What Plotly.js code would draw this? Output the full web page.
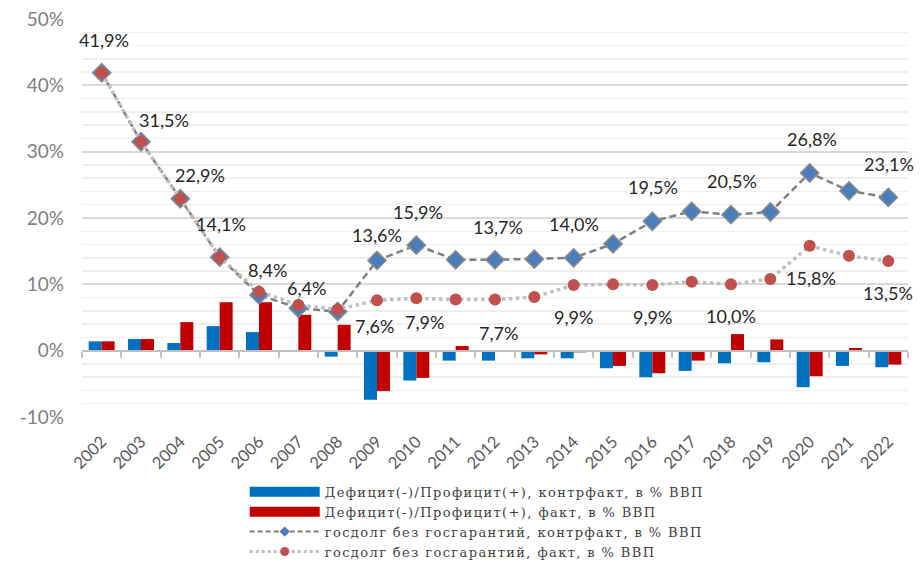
<!DOCTYPE html>
<html>
<head>
<meta charset="utf-8">
<script src="https://cdn.plot.ly/plotly-3.0.1.min.js"></script>
<style>html,body{margin:0;padding:0;background:#fff;}#chart{width:920px;height:563px;}
.legendtext{letter-spacing:1.4px;}</style>
</head>
<body>
<div id="chart"></div>
<script>
// ---- data ----
const years = ['2002','2003','2004','2005','2006','2007','2008','2009','2010','2011','2012','2013','2014','2015','2016','2017','2018','2019','2020','2021','2022'];
const deficitCounter = [1.4,1.75,1.15,3.7,2.8,0,-0.9,-7.4,-4.5,-1.5,-1.5,-1.15,-1.15,-2.65,-4.0,-3.05,-1.9,-1.75,-5.5,-2.3,-2.5];
const deficitFact = [1.4,1.75,4.3,7.3,7.3,5.4,3.9,-6.1,-4.1,0.7,0,-0.55,-0.25,-2.3,-3.4,-1.5,2.5,1.7,-3.85,0.4,-2.1];
const debtCounter = [41.9,31.5,22.9,14.1,8.4,6.4,5.9,13.6,15.9,13.7,13.7,13.8,14.0,16.1,19.5,21.0,20.5,20.9,26.8,24.1,23.1];
const debtFact = [41.9,31.5,22.9,14.1,8.9,6.9,6.2,7.6,7.9,7.7,7.7,8.1,9.9,10.0,9.9,10.4,10.0,10.8,15.8,14.3,13.5];
const counterLabelYears = ['2002','2003','2004','2005','2006','2007','2009','2010','2012','2014','2016','2018','2020','2022'];
const factLabelYears = ['2009','2010','2012','2014','2016','2018','2020','2022'];
const yTickValues = [-10, 0, 10, 20, 30, 40, 50];
const seriesNames = [
  'Дефицит(-)/Профицит(+), контрфакт, в % ВВП',
  'Дефицит(-)/Профицит(+), факт, в % ВВП',
  'госдолг без госгарантий, контрфакт, в % ВВП',
  'госдолг без госгарантий, факт, в % ВВП'
];

// ---- label offsets (styling, px) ----
const counterShift = {'2002':[2,33],'2003':[23,22],'2004':[20,24],'2005':[1,33],'2006':[8,25],'2007':[8,20],'2009':[0,25],'2010':[2,33],'2012':[3,33],'2014':[0,34],'2016':[1,34],'2018':[1,34],'2020':[2,34],'2022':[1,33]};
const factShift = {'2009':[-3,-26],'2010':[8,-24],'2012':[3,-33],'2014':[0,-32],'2016':[0,-32],'2018':[0,-32],'2020':[1,-32],'2022':[0,-32]};

const fmt = v => v.toFixed(1).replace('.', ',') + '%';
const labelFont = {family: 'Lato, sans-serif', size: 18, color: '#262626'};

const annotations = [];
counterLabelYears.forEach(y => {
  const i = years.indexOf(y);
  const s = counterShift[y];
  annotations.push({x: i, y: debtCounter[i], xref: 'x', yref: 'y', text: fmt(debtCounter[i]), showarrow: false,
    xshift: s[0], yshift: s[1], font: labelFont, xanchor: 'center', yanchor: 'middle'});
});
factLabelYears.forEach(y => {
  const i = years.indexOf(y);
  const s = factShift[y];
  annotations.push({x: i, y: debtFact[i], xref: 'x', yref: 'y', text: fmt(debtFact[i]), showarrow: false,
    xshift: s[0], yshift: s[1], font: labelFont, xanchor: 'center', yanchor: 'middle'});
});

const traces = [
  {type: 'bar', name: seriesNames[0], x: years, y: deficitCounter, marker: {color: '#0070C0'}, hoverinfo: 'skip', showlegend: false},
  {type: 'bar', name: seriesNames[1], x: years, y: deficitFact, marker: {color: '#C00000'}, hoverinfo: 'skip', showlegend: false},
  {type: 'scatter', mode: 'lines+markers', name: seriesNames[2], x: years, y: debtCounter, showlegend: false,
    line: {color: '#7f7f7f', width: 2.5, dash: '7px,4px'},
    marker: {symbol: 'diamond', size: 14, color: '#4A7EBB', line: {color: '#8a8a8a', width: 1.5}}},
  {type: 'scatter', mode: 'lines+markers', name: seriesNames[3], x: years, y: debtFact, showlegend: false,
    line: {color: '#bfbfbf', width: 3.5, dash: 'dot'},
    marker: {symbol: 'circle', size: 12, color: '#C0504D'}},
  // legend entries (no marks in the plot)
  {type: 'scatter', mode: 'lines', name: seriesNames[0], x: [null], y: [null], line: {color: '#0070C0', width: 10}, legendrank: 1},
  {type: 'scatter', mode: 'lines', name: seriesNames[1], x: [null], y: [null], line: {color: '#C00000', width: 10}, legendrank: 2},
  {type: 'scatter', mode: 'lines+markers', name: seriesNames[2], x: [null], y: [null], legendrank: 3,
    line: {color: '#7f7f7f', width: 2, dash: '5px,3px'}, marker: {symbol: 'diamond', size: 8, color: '#4A7EBB'}},
  {type: 'scatter', mode: 'lines+markers', name: seriesNames[3], x: [null], y: [null], legendrank: 4,
    line: {color: '#bfbfbf', width: 3, dash: 'dot'}, marker: {symbol: 'circle', size: 9, color: '#C0504D'}}
];

const layout = {
  width: 920, height: 563,
  margin: {l: 82, r: 12, t: 19, b: 146},
  paper_bgcolor: '#ffffff', plot_bgcolor: '#ffffff',
  separators: ', ',
  barmode: 'group', bargap: 0.34, bargroupgap: 0,
  showlegend: true,
  legend: {x: 0.197, xanchor: 'left', xref: 'paper', y: 0.153, yanchor: 'top', yref: 'container', orientation: 'v',
    font: {family: 'DejaVu Serif, serif', size: 13, color: '#404040'},
    itemwidth: 70, tracegroupgap: 0, bgcolor: 'rgba(0,0,0,0)', traceorder: 'normal'},
  xaxis: {type: 'category', categoryorder: 'array', categoryarray: years, range: [-0.5, years.length - 0.5],
    anchor: 'free', position: 1/6, showline: true, linecolor: '#bfbfbf', linewidth: 2,
    ticks: 'outside', tickson: 'boundaries', ticklen: 6, tickcolor: '#bfbfbf', tickwidth: 2,
    tickangle: -45, ticklabelstandoff: 74,
    tickfont: {family: 'Lato, sans-serif', size: 16.5, color: '#595959'},
    showgrid: false, zeroline: false, fixedrange: true, automargin: false},
  yaxis: {range: [-10, 50], tickmode: 'array', tickvals: yTickValues, ticktext: yTickValues.map(v => (v < 0 ? '-' + Math.abs(v) : v) + '%'),
    tickfont: {family: 'Lato, sans-serif', size: 19, color: '#7f7f7f'},
    showgrid: true, gridcolor: '#d9d9d9', gridwidth: 2,
    minor: {dtick: 2, tick0: 0, showgrid: true, gridcolor: '#efefef', gridwidth: 1.5},
    zeroline: false, showline: false, ticks: '', ticklabelstandoff: 17, fixedrange: true, automargin: false},
  annotations: annotations
};

Plotly.newPlot('chart', traces, layout, {displayModeBar: false, staticPlot: true});
</script>
</body>
</html>
